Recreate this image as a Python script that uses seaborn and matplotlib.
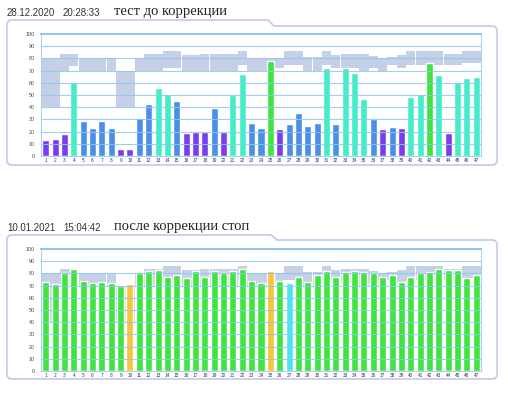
import matplotlib
matplotlib.use('Agg')
import numpy as np
import pandas as pd
import seaborn as sns
import matplotlib.pyplot as plt
from matplotlib.path import Path
from matplotlib.patches import PathPatch
from matplotlib.transforms import Affine2D

# channel numbers on the x axis
channels = [str(i) for i in range(1, 48)]

# light grey range bands behind the bars (same on both panels)
band_low = [40, 40, 70, 74, 70, 70, 70, 70, 40, 40, 70, 70, 70, 72, 72, 70,
            70, 70, 70, 70, 70, 75, 70, 70, 70, 72, 75, 75, 70, 70, 75, 72,
            72, 72, 70, 72, 70, 75, 72, 75, 75, 75, 75, 75, 75, 76, 76]
band_high = [80, 80, 84, 84, 80, 80, 80, 80, 70, 70, 80, 84, 84, 86, 86, 83,
             83, 84, 84, 84, 84, 86, 80, 80, 80, 80, 86, 86, 81, 81, 86, 83,
             84, 84, 84, 82, 80, 81, 83, 86, 86, 86, 86, 84, 84, 86, 86]

# before correction
before_values = [13, 14, 18, 61, 29, 23, 29, 23, 6, 6, 31, 43, 56, 51, 45, 19,
                 20, 20, 39, 20, 50, 67, 27, 23, 78, 22, 26, 35, 25, 27, 72, 26,
                 72, 68, 47, 30, 22, 24, 23, 48, 51, 76, 66, 19, 61, 64, 65]
before_kind = ['p', 'p', 'p', 'a', 'b', 'b', 'b', 'b', 'p', 'p',
               'b', 'b', 'a', 'a', 'b', 'p', 'p', 'p', 'b', 'p',
               'a', 'a', 'b', 'b', 'g', 'p', 'b', 'b', 'b', 'b',
               'a', 'b', 'a', 'a', 'a', 'b', 'p', 'b', 'p', 'a',
               'a', 'g', 'a', 'p', 'a', 'a', 'a']

# after correction
after_values = [73, 71, 80, 84, 74, 72, 73, 72, 70, 71, 80, 82, 83, 77, 79, 76,
                82, 77, 82, 80, 82, 84, 74, 72, 82, 74, 72, 77, 73, 79, 82, 77,
                81, 82, 81, 80, 77, 79, 73, 77, 80, 81, 84, 83, 83, 76, 79]
after_kind = ['g', 'g', 'g', 'g', 'g', 'g', 'g', 'g', 'g', 'o',
              'g', 'g', 'g', 'g', 'g', 'g', 'g', 'g', 'g', 'g',
              'g', 'g', 'g', 'g', 'o', 'g', 'c', 'g', 'g', 'g',
              'g', 'g', 'g', 'g', 'g', 'g', 'g', 'g', 'g', 'g',
              'g', 'g', 'g', 'g', 'g', 'g', 'g']

titles = [('28.12.2020', '20:28:33', 'тест до коррекции'),
          ('10.01.2021', '15:04:42', 'после коррекции стоп')]

palette = {'p': '#7a3cf0', 'b': '#4a8ee8', 'a': '#42eec8', 'g': '#3fe43f',
           'o': '#f8c43c', 'c': '#48e4f0'}

sns.set_style('white')
plt.rcParams['font.family'] = ['Liberation Sans', 'DejaVu Sans']

W, H = 508, 395
fig = plt.figure(figsize=(W / 100, H / 100), dpi=100)
px = Affine2D().scale(1 / W, -1 / H).translate(0, 1) + fig.transFigure


def frame(left, right, top_tab, top_main, tab_end, bottom, r=5):
    verts = [(left, bottom - r), (left, top_tab + r), (left, top_tab), (left + r, top_tab),
             (tab_end, top_tab), (tab_end + 6, top_main), (right - r, top_main),
             (right, top_main), (right, top_main + r), (right, bottom - r),
             (right, bottom), (right - r, bottom), (left + r, bottom),
             (left, bottom), (left, bottom - r)]
    codes = [Path.MOVETO, Path.LINETO, Path.CURVE3, Path.CURVE3, Path.LINETO,
             Path.LINETO, Path.LINETO, Path.CURVE3, Path.CURVE3, Path.LINETO,
             Path.CURVE3, Path.CURVE3, Path.LINETO, Path.CURVE3, Path.CURVE3]
    fig.add_artist(PathPatch(Path(verts, codes), transform=px, fill=False,
                             edgecolor='#c6c6ec', lw=1.2))


panels = [(before_values, before_kind, 239, 13, (7, 497, 20, 26, 268, 165)),
          (after_values, after_kind, 24, 228, (7, 497, 235, 240, 271, 379))]

for (values, kind, y0, ty, fr), (d, t, name) in zip(panels, titles):
    frame(*fr)
    fig.text(7 / W, 1 - ty / H, d, fontsize=7, color='#333333', va='center')
    fig.text(63 / W, 1 - ty / H, t, fontsize=7, color='#333333', va='center')
    fig.text(114 / W, 1 - (ty - 1) / H, name, fontsize=10.5, color='#222222',
             va='center', family='Liberation Serif')

    ax = fig.add_axes([41 / W, y0 / H, 440 / W, 122 / H])
    ax.bar(np.arange(len(channels)), np.subtract(band_high, band_low),
           bottom=band_low, width=0.98, color='#c5cfe6', edgecolor='none',
           linewidth=0, zorder=0.5)
    df = pd.DataFrame({'channel': channels, 'value': values, 'kind': kind})
    sns.barplot(data=df, x='channel', y='value', hue='kind', palette=palette,
                dodge=False, width=0.75, saturation=1, legend=False, ax=ax,
                zorder=1)
    ax.set_xlim(-0.5, len(channels) - 0.5)
    ax.set_ylim(0, 100)
    ax.set_yticks(range(0, 101, 10))
    ax.set_xlabel('')
    ax.set_ylabel('')
    ax.set_axisbelow(False)
    ax.yaxis.grid(True, color='#8cc8f0', lw=0.8, alpha=0.85)
    ax.xaxis.grid(False)
    ax.tick_params(axis='y', length=1.5, width=1.6, color='#3c9ae0',
                   labelsize=3.8, labelcolor='#444444', pad=3, direction='out')
    ax.tick_params(axis='x', length=0, labelsize=3.4, labelcolor='#333355', pad=1.5)
    for side in ['left', 'right', 'bottom']:
        ax.spines[side].set_color('#a8d4f0')
        ax.spines[side].set_linewidth(0.8)
    ax.spines['top'].set_color('#90c4ee')
    ax.spines['top'].set_linewidth(1.4)

fig.savefig('out.png', dpi=100)
